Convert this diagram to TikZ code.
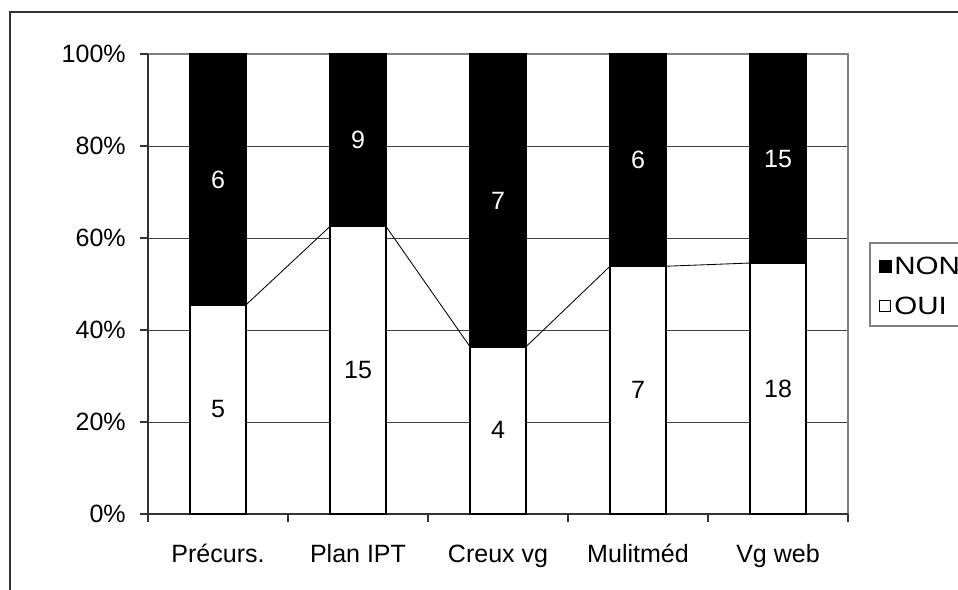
\documentclass[tikz,border=0pt]{standalone}
\usepackage{fontspec}
\setmainfont{Liberation Sans}
\usepackage{tikz}
\tikzstyle{ouibar} = [rectangle, minimum width=1.4cm, inner sep=0pt, outer sep=0pt, draw=black, line width=1.3pt, fill=white, text=black, anchor=south]
\tikzstyle{nonbar} = [rectangle, minimum width=1.4cm, inner sep=0pt, outer sep=0pt, draw=black, line width=1.3pt, fill=black, text=white, anchor=north]
\tikzstyle{gridline} = [black!75, line width=0.7pt]
\tikzstyle{axisline} = [black!80, line width=0.8pt]
\tikzstyle{frameline} = [black!50, line width=0.8pt]
\tikzstyle{serie} = [black, line width=0.6pt]
\tikzstyle{ylab} = [anchor=east, inner sep=0pt]
\tikzstyle{xlab} = [anchor=base, inner sep=0pt]
\tikzstyle{keytext} = [anchor=west, inner sep=0pt]
\tikzstyle{nonkey} = [rectangle, minimum size=0.3cm, inner sep=0pt, draw=black, fill=black]
\tikzstyle{ouikey} = [rectangle, minimum size=0.28cm, inner sep=0pt, draw=black, line width=0.7pt, fill=white]

\begin{document}
\begin{tikzpicture}[x=0.025cm, y=-0.025cm, font=\fontsize{17.8pt}{20pt}\selectfont]
\clip (0,0) rectangle (958,590);
\fill[white] (0,0) rectangle (958,590);
\draw[black!80, line width=0.8pt] (10,12) rectangle (1000,620);

\foreach \y/\p in {146/80, 238/60, 330/40, 422/20} {
  \draw[gridline] (148,\y) -- (848,\y);
  \draw[axisline] (140,\y) -- (148,\y);
  \node[ylab] at (126,\y) {\p\%};
}
\draw[frameline] (148,54) -- (848,54) -- (848,514);
\draw[axisline] (140,54) -- (148,54);
\node[ylab] at (126,54) {100\%};
\node[ylab] at (126,514) {0\%};
\draw[axisline] (148,54) -- (148,514);
\draw[axisline] (140,514) -- (848,514);
\foreach \x in {148,288,428,568,708,848}
  \draw[axisline] (\x,514) -- (\x,522);

\node (ouiPrecurs) [ouibar, minimum height=5.2273cm] at (218,514) {5};
\node (nonPrecurs) [nonbar, minimum height=6.2727cm] at (218,54) {6};
\node (ouiPlan) [ouibar, minimum height=7.1875cm] at (358,514) {15};
\node (nonPlan) [nonbar, minimum height=4.3125cm] at (358,54) {9};
\node (ouiCreux) [ouibar, minimum height=4.1818cm] at (498,514) {4};
\node (nonCreux) [nonbar, minimum height=7.3182cm] at (498,54) {7};
\node (ouiMulti) [ouibar, minimum height=6.1923cm] at (638,514) {7};
\node (nonMulti) [nonbar, minimum height=5.3077cm] at (638,54) {6};
\node (ouiWeb) [ouibar, minimum height=6.2727cm] at (778,514) {18};
\node (nonWeb) [nonbar, minimum height=5.2273cm] at (778,54) {15};

\draw [serie] (ouiPrecurs.north east) -- (ouiPlan.north west);
\draw [serie] (ouiPlan.north east) -- (ouiCreux.north west);
\draw [serie] (ouiCreux.north east) -- (ouiMulti.north west);
\draw [serie] (ouiMulti.north east) -- (ouiWeb.north west);

\node (labPrecurs) [xlab] at (218,562) {Précurs.};
\node (labPlan) [xlab] at (358,562) {Plan IPT};
\node (labCreux) [xlab] at (498,562) {Creux vg};
\node (labMulti) [xlab] at (638,562) {Mulitméd};
\node (labWeb) [xlab] at (778,562) {Vg web};

\draw[frameline] (870,243) rectangle (1000,326);
\node (keyNon) [nonkey] at (885,266) {};
\node (keyOui) [ouikey] at (885,306) {};
\node (txtNon) [keytext] at (894,266) {\scalebox{1.18}[1]{NON}};
\node (txtOui) [keytext] at (894,306) {\scalebox{1.18}[1]{OUI}};
\end{tikzpicture}
\end{document}
